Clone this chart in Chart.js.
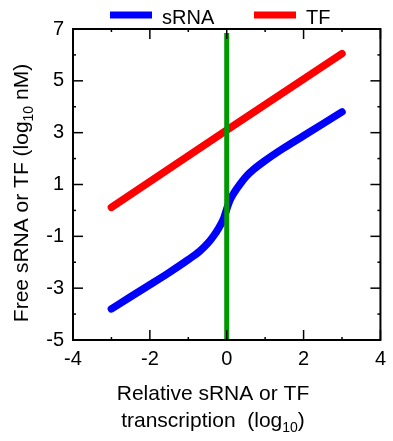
<!DOCTYPE html>
<html>
<head>
<meta charset="utf-8">
<script src="https://cdn.jsdelivr.net/npm/chart.js@4.4.0/dist/chart.umd.min.js"></script>
<style>
html, body { margin: 0; padding: 0; background: #fff; }
#wrap { width: 393px; height: 441px; }
</style>
</head>
<body>
<div id="wrap"><canvas id="switch-chart" width="393" height="441"></canvas></div>
<script>
// values (log10 units)
var sRNAX = [-3, -2.5, -2, -1.5, -1, -0.7, -0.5, -0.35, -0.2, -0.08, 0, 0.08, 0.2, 0.35, 0.5, 0.7, 1, 1.5, 2, 2.5, 3];
var sRNAY = [-3.8, -3.33, -2.87, -2.4, -1.9, -1.57, -1.28, -1.0, -0.66, -0.32, 0.05, 0.38, 0.7, 1.02, 1.3, 1.58, 1.92, 2.42, 2.88, 3.34, 3.8];
var tfX = [-3, 0, 3];
var tfY = [0.12, 3.1, 6.05];
var markX = [0, 0];
var markY = [-5, 6.85];
var xTicks = [-4, -2, 0, 2, 4];
var yTicks = [-5, -3, -1, 1, 3, 5, 7];
var seriesNames = ["sRNA", "TF"];
var seriesColors = ["#0000ff", "#ff0000"];

var FONT = 'Arial, "Liberation Sans", sans-serif';
Chart.defaults.font.family = FONT;
Chart.defaults.color = "#000";

function toPoints(xs, ys) {
  var pts = [];
  for (var i = 0; i < xs.length; i++) pts.push({x: xs[i], y: ys[i]});
  return pts;
}

function line(ctx, x1, y1, x2, y2) {
  ctx.beginPath(); ctx.moveTo(x1, y1); ctx.lineTo(x2, y2); ctx.stroke();
}

// box, inside ticks (major + minor), legend and axis titles
var decor = {
  id: "decor",
  afterDatasetsDraw: function(chart) {
    var ctx = chart.ctx, a = chart.chartArea;
    var xs = chart.scales.x, ys = chart.scales.y;
    ctx.save();
    ctx.strokeStyle = "#000";
    ctx.lineWidth = 2;
    ctx.strokeRect(a.left, a.top, a.right - a.left, a.bottom - a.top);
    ctx.lineWidth = 1.5;
    var i, p, v;
    for (i = 0; i < xTicks.length; i++) {
      p = xs.getPixelForValue(xTicks[i]);
      line(ctx, p, a.bottom, p, a.bottom - 10);
      line(ctx, p, a.top, p, a.top + 10);
      if (i < xTicks.length - 1) {
        v = (xTicks[i] + xTicks[i + 1]) / 2;
        p = xs.getPixelForValue(v);
        line(ctx, p, a.bottom, p, a.bottom - 3);
        line(ctx, p, a.top, p, a.top + 3);
      }
    }
    for (i = 0; i < yTicks.length; i++) {
      p = ys.getPixelForValue(yTicks[i]);
      line(ctx, a.left, p, a.left + 10, p);
      line(ctx, a.right, p, a.right - 10, p);
      if (i < yTicks.length - 1) {
        v = (yTicks[i] + yTicks[i + 1]) / 2;
        p = ys.getPixelForValue(v);
        line(ctx, a.left, p, a.left + 3, p);
        line(ctx, a.right, p, a.right - 3, p);
      }
    }

    // legend
    var legX = [110, 254];
    ctx.font = "20px " + FONT;
    ctx.textBaseline = "alphabetic";
    ctx.textAlign = "left";
    ctx.fillStyle = "#000";
    ctx.lineWidth = 7;
    for (i = 0; i < seriesNames.length; i++) {
      ctx.strokeStyle = seriesColors[i];
      line(ctx, legX[i], 15, legX[i] + 42, 15);
      ctx.fillText(seriesNames[i], legX[i] + 52, 24);
    }

    // x title, two lines, with subscript
    ctx.font = "21px " + FONT;
    ctx.textAlign = "center";
    ctx.fillText("Relative sRNA or TF", 213, 400);
    var part1 = "transcription  (log", sub = "10", part2 = ")";
    ctx.font = "21px " + FONT;
    var w1 = ctx.measureText(part1).width, w3 = ctx.measureText(part2).width;
    ctx.font = "14px " + FONT;
    var w2 = ctx.measureText(sub).width;
    var sx = 213 - (w1 + w2 + w3) / 2;
    ctx.textAlign = "left";
    ctx.font = "21px " + FONT;
    ctx.fillText(part1, sx, 427);
    ctx.fillText(part2, sx + w1 + w2, 427);
    ctx.font = "14px " + FONT;
    ctx.fillText(sub, sx + w1, 432);

    // y title, rotated
    ctx.translate(28, 193);
    ctx.rotate(-Math.PI / 2);
    part1 = "Free sRNA or TF (log"; part2 = " nM)";
    ctx.font = "21px " + FONT;
    w1 = ctx.measureText(part1).width; w3 = ctx.measureText(part2).width;
    ctx.font = "14px " + FONT;
    w2 = ctx.measureText(sub).width;
    sx = -(w1 + w2 + w3) / 2;
    ctx.font = "21px " + FONT;
    ctx.fillText(part1, sx, 0);
    ctx.fillText(part2, sx + w1 + w2, 0);
    ctx.font = "14px " + FONT;
    ctx.fillText(sub, sx + w1, 5);
    ctx.restore();
  }
};

var switchChart = new Chart(document.getElementById("switch-chart"), {
  type: "line",
  data: {
    datasets: [
      {
        label: "threshold",
        data: toPoints(markX, markY),
        borderColor: "#009900",
        borderWidth: 5,
        borderCapStyle: "butt",
        pointRadius: 0
      },
      {
        label: seriesNames[0],
        data: toPoints(sRNAX, sRNAY),
        borderColor: seriesColors[0],
        borderWidth: 7.5,
        borderCapStyle: "round",
        cubicInterpolationMode: "monotone",
        pointRadius: 0
      },
      {
        label: seriesNames[1],
        data: toPoints(tfX, tfY),
        borderColor: seriesColors[1],
        borderWidth: 7.5,
        borderCapStyle: "round",
        pointRadius: 0
      }
    ]
  },
  options: {
    responsive: false,
    animation: false,
    layout: { padding: { top: 29, right: 7, left: 0, bottom: 0 } },
    plugins: { legend: { display: false }, tooltip: { enabled: false } },
    scales: {
      x: {
        type: "linear",
        min: -4, max: 4,
        grid: { display: false, drawTicks: false },
        border: { display: false },
        ticks: { stepSize: 2, padding: 7, font: { size: 20 } },
        afterFit: function(s) { s.height = 101; }
      },
      y: {
        type: "linear",
        min: -5, max: 7,
        grid: { display: false, drawTicks: false },
        border: { display: false },
        ticks: { stepSize: 2, padding: 9, font: { size: 20 } },
        afterFit: function(s) { s.width = 73; }
      }
    }
  },
  plugins: [decor]
});
</script>
</body>
</html>
